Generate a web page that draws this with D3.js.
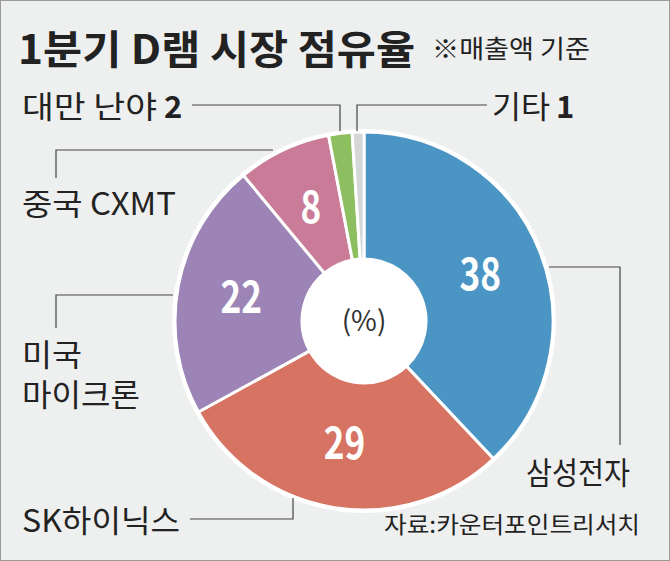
<!DOCTYPE html>
<html><head><meta charset="utf-8">
<script src="https://cdn.jsdelivr.net/npm/d3@7"></script>
<style>
body{margin:0;background:#fff}
svg{display:block}
text{font-family:"Noto Sans CJK KR","Noto Sans",sans-serif}
</style></head><body><div id="chart"></div>
<script>
// D램 시장 점유율 (%)
const companies = ["삼성전자", "SK하이닉스", "미국 마이크론", "중국 CXMT", "대만 난야", "기타"];
const shares = [38, 29, 22, 8, 2, 1];
const colors = ["#4b95c4", "#d77362", "#9c84b6", "#c97b98", "#8dbe5f", "#d4d6d8"];

const width = 670, height = 561;
const cx = 364, cy = 321, outerR = 189, innerR = 62;

const svg = d3.select("#chart").append("svg")
    .attr("width", width).attr("height", height);

svg.append("rect").attr("x", 0.5).attr("y", 0.5)
    .attr("width", width - 1).attr("height", height - 1)
    .attr("fill", "#eeefef").attr("stroke", "#9a9a9a");

// title
svg.append("text").attr("x", 18).attr("y", 64)
    .attr("font-size", 40).attr("font-weight", 700).attr("fill", "#222")
    .attr("textLength", 397).attr("lengthAdjust", "spacingAndGlyphs")
    .text("1분기 D램 시장 점유율");
svg.append("text").attr("x", 432).attr("y", 58)
    .attr("font-size", 25).attr("fill", "#222")
    .attr("textLength", 158).attr("lengthAdjust", "spacingAndGlyphs").text("※매출액 기준");

const pie = d3.pie().sort(null).value(d => d)(shares);
const arc = d3.arc().innerRadius(innerR).outerRadius(outerR);
const g = svg.append("g").attr("transform", `translate(${cx},${cy})`);

g.selectAll("path").data(pie).enter().append("path")
    .attr("d", arc)
    .attr("fill", (d, i) => colors[i])
    .attr("stroke", "#fff").attr("stroke-width", 3);

g.append("circle").attr("r", outerR + 1.5).attr("fill", "none")
    .attr("stroke", "#fff").attr("stroke-width", 3);
g.append("circle").attr("r", innerR).attr("fill", "#fff");
g.append("text").attr("text-anchor", "middle").attr("y", 10)
    .attr("font-size", 28).attr("fill", "#333").text("(%)");

// values inside slices (largest four)
const labelArc = d3.arc().innerRadius(125).outerRadius(125);
g.selectAll("text.val").data(pie.filter(d => d.data >= 8)).enter().append("text")
    .attr("class", "val")
    .attr("text-anchor", "middle").attr("dy", 15)
    .attr("font-size", 44).attr("font-weight", 700).attr("fill", "#fff")
    .attr("font-family", "'Liberation Sans Narrow','Roboto Condensed','DejaVu Sans Condensed',sans-serif")
    .attr("transform", function(d) {
        const c = labelArc.centroid(d);
        return `translate(${c[0]},${c[1]}) scale(0.8,1)`;
    })
    .text(d => d.data);

// leader lines
const leaders = [
    [[549, 267], [620, 267], [620, 445]],
    [[190, 519], [293, 519], [293, 498]],
    [[173, 295], [56, 295], [56, 328]],
    [[273, 150], [56, 150], [56, 178]],
    [[192, 105], [340, 105], [340, 131]],
    [[357, 131], [357, 105], [487, 105]]
];
svg.selectAll("path.lead").data(leaders).enter().append("path")
    .attr("class", "lead").attr("fill", "none")
    .attr("stroke", "#444").attr("stroke-width", 1.2)
    .attr("d", d3.line());

// outside labels
const lab = (x, y, t, len) => svg.append("text").attr("x", x).attr("y", y)
    .attr("font-size", 31).attr("fill", "#222")
    .attr("textLength", len).attr("lengthAdjust", "spacingAndGlyphs").text(t);
lab(526, 484, companies[0], 104);
lab(22, 532, companies[1], 158);
lab(22, 366, "미국", 60);
lab(22, 406, "마이크론", 118);
lab(22, 215, companies[3], 154);
const ny = lab(22, 118, companies[4] + " ", 135);
svg.append("text").attr("x", 164).attr("y", 118).attr("font-size", 31)
    .attr("font-weight", 700).attr("fill", "#222").text(shares[4]);
lab(492, 118, companies[5], 58);
svg.append("text").attr("x", 556).attr("y", 118).attr("font-size", 31)
    .attr("font-weight", 700).attr("fill", "#222").text(shares[5]);

svg.append("text").attr("x", 384).attr("y", 533)
    .attr("font-size", 23).attr("fill", "#222")
    .attr("textLength", 256).attr("lengthAdjust", "spacingAndGlyphs")
    .text("자료:카운터포인트리서치");
</script></body></html>
